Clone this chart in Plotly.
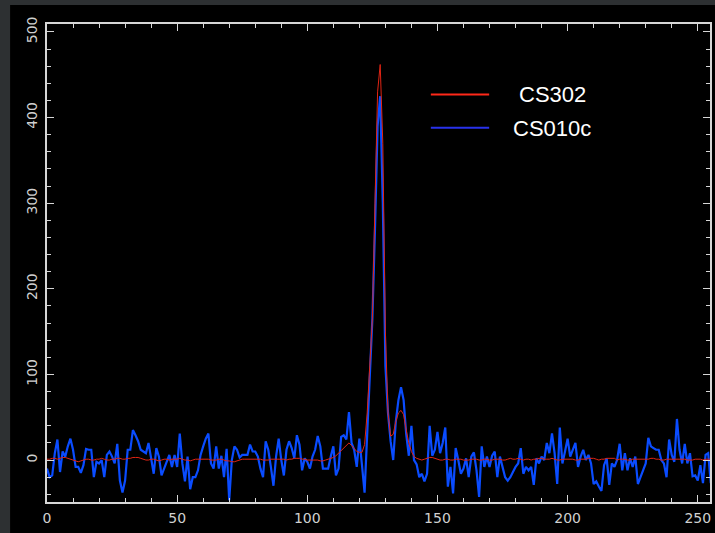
import plotly.graph_objects as go

channels = list(range(256))

cs010c = [
    -10, -20, -18, 8, 24, -14, 10, 4, 16, 25,
    12, -8, -8, -15, -6, 13, 12, 12, -20, -2,
    -4, 0, -20, 6, 10, 4, -4, 19, -24, -38,
    -24, 12, 12, 35, 29, 22, 12, 10, 8, 20,
    2, -16, 14, 4, -18, -10, -4, 6, -8, 6,
    -8, 31, -4, -25, 4, -34, -20, -20, -12, 6,
    16, 25, 31, -4, -10, 16, -10, 5, -20, 13,
    -47, 0, 16, 12, 3, 6, 6, 6, 18, 10,
    10, 4, -10, -20, 22, 12, -8, -30, 4, 25,
    0, -18, 12, 22, 14, 2, 29, 18, -12, 2,
    -2, -10, 4, 12, 28, 16, -10, -10, -10, 4,
    16, -18, -10, 27, 29, 24, 56, 20, 12, -8,
    25, -6, -38, 30, 100, 165, 270, 390, 425, 300,
    110, 55, 22, 0, 45, 70, 85, 70, 30, 5,
    40, 0, -5, -20, -16, -25, -16, 40, 5, 12,
    33, 8, 20, 38, -31, -8, -39, 14, 0, -16,
    -10, 2, -20, 4, 9, -12, -43, 16, -8, 4,
    -8, 5, 10, -20, 4, -8, -20, -24, -20, -14,
    -8, -4, 14, -16, -8, -12, -8, -29, 2, -4,
    4, 0, 20, 8, 31, 8, -28, 38, -4, 10,
    25, 4, 12, 20, -8, 4, 12, 0, 6, -4,
    -28, -25, -31, -36, -6, 2, -29, -4, -8, 0,
    19, -12, 8, -12, 2, -8, 4, -28, -20, -12,
    -4, 26, 16, 14, 12, 12, 0, -4, -20, 24,
    6, -2, 48, 12, -4, 19, -4, 8, -19, -18,
    -24, -6, -27, 6, 8, -27,
]

cs302 = [
    1, 1, 2, 2, 1, 2, 3, 3, 2, 1,
    0, -1, -2, -1, 0, 1, 1, 0, 0, 1,
    1, 2, 1, 0, 0, 1, 1, 2, 2, 1,
    1, 2, 2, 3, 3, 3, 2, 1, 0, 0,
    1, 1, 0, -1, 0, 1, 1, 0, 1, 1,
    1, 2, 1, 0, 0, -1, 0, 1, 1, 1,
    1, 1, 1, 0, 0, 0, 1, 1, 0, -1,
    -1, -2, -2, -1, 0, 1, 1, 1, 1, 1,
    1, 1, 1, 0, 0, 0, 1, 1, 1, 1,
    1, 1, 0, 1, 1, 2, 2, 2, 1, 1,
    0, 0, 0, 0, 0, -1, -1, 0, 1, 2,
    3, 5, 8, 11, 15, 18, 20, 17, 13, 10,
    9, 9, 18, 55, 110, 165, 300, 430, 462, 370,
    150, 55, 28, 30, 45, 55, 58, 53, 35, 20,
    10, 4, 2, 1, 0, 1, 2, 3, 3, 2,
    1, 0, 0, 1, 1, 0, 0, 1, 1, 1,
    0, 0, 0, 1, 1, 1, 0, 0, 1, 1,
    0, 0, 1, 1, 1, 0, 0, 1, 2, 1,
    1, 2, 1, 0, 1, 1, 0, 1, 1, 2,
    2, 1, 1, 1, 2, 1, 0, 0, 1, 1,
    1, 1, 1, 0, 0, 1, 1, 1, 2, 2,
    2, 1, 0, 1, 1, 2, 2, 2, 2, 0,
    1, 1, 1, 0, 0, 1, 1, 1, 1, 1,
    1, 1, 2, 2, 1, 1, 0, 0, 1, 1,
    1, 1, 1, 1, 1, 1, 0, 0, 0, 1,
    1, 1, 0, 1, 1, 1,
]

series_names = ["CS302", "CS010c"]
x_ticks = [0, 50, 100, 150, 200, 250]
y_ticks = [0, 100, 200, 300, 400, 500]

RED = "rgb(225,36,20)"
BLUE = "rgb(10,76,255)"
AX = "#d6d6d6"

fig = go.Figure()
fig.add_trace(go.Scatter(x=channels, y=cs010c, mode="lines", name=series_names[1],
                         line=dict(color=BLUE, width=2.2)))
fig.add_trace(go.Scatter(x=channels, y=cs302, mode="lines", name=series_names[0],
                         line=dict(color=RED, width=1)))

axis_common = dict(
    showgrid=False, zeroline=False, showline=True, linecolor=AX, linewidth=1.5,
    ticks="inside", ticklen=7, tickcolor=AX, tickwidth=1.2, mirror="ticks",
    tickfont=dict(family="DejaVu Sans", size=14, color="#d0d0d0"),
)

fig.update_xaxes(range=[0, 254.7], tickvals=x_ticks, ticklabelstandoff=2,
                 minor=dict(dtick=10, ticks="inside", ticklen=4, tickcolor=AX, tickwidth=1.2),
                 **axis_common)
fig.update_yaxes(range=[-49, 509.3], tickvals=y_ticks, tickangle=-90, ticklabelstandoff=3,
                 minor=dict(dtick=20, ticks="inside", ticklen=4, tickcolor=AX, tickwidth=1.2),
                 **axis_common)

L, R, T, B = 47, 3, 24, 31
W, H = 715, 533
pw, ph = W - L - R, H - T - B

def px(xp):
    return (xp - L) / pw

def py(yp):
    return (H - B - yp) / ph

shapes = [
    dict(type="rect", xref="paper", yref="paper", x0=px(10), x1=px(720), y0=py(540), y1=py(5),
         fillcolor="black", line=dict(width=0), layer="below"),
    dict(type="line", xref="paper", yref="paper", x0=px(432), x1=px(490.5), y0=py(94.5), y1=py(94.5),
         line=dict(color="rgb(255,40,25)", width=2)),
    dict(type="line", xref="paper", yref="paper", x0=px(432), x1=px(490.5), y0=py(127.7), y1=py(127.7),
         line=dict(color="rgb(40,50,235)", width=2)),
]

annotations = [
    dict(text=series_names[0], xref="paper", yref="paper", x=px(554), y=py(94), xanchor="center",
         yanchor="middle", showarrow=False, font=dict(family="Liberation Sans", size=22, color="white")),
    dict(text=series_names[1], xref="paper", yref="paper", x=px(554), y=py(128.5), xanchor="center",
         yanchor="middle", showarrow=False, font=dict(family="Liberation Sans", size=22, color="white")),
]

fig.update_layout(
    width=W, height=H, margin=dict(l=L, r=R, t=T, b=B, pad=0),
    paper_bgcolor="#2d3032", plot_bgcolor="black",
    showlegend=False, shapes=shapes, annotations=annotations,
)

fig.write_html("out.html")
